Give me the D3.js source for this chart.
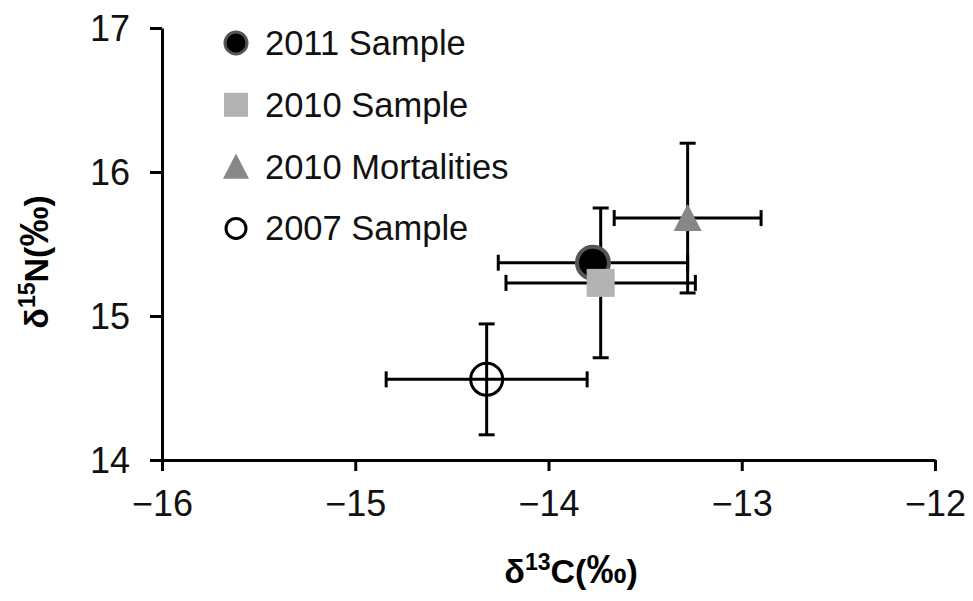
<!DOCTYPE html>
<html>
<head>
<meta charset="utf-8">
<script src="https://cdn.jsdelivr.net/npm/d3@7"></script>
<style>
  body { margin: 0; background: #fff; }
  text { font-family: "Liberation Sans", Arial, sans-serif; }
</style>
</head>
<body>
<div id="chart"></div>
<script>
// series
var names = ["2011 Sample", "2010 Sample", "2010 Mortalities", "2007 Sample"];
var d13C = [-13.77, -13.73, -13.28, -14.32];
var d15N = [15.37, 15.23, 15.68, 14.56];
var cErr = [0.49, 0.49, 0.38, 0.52];
var nErr = [0.1, 0.52, 0.52, 0.385];
var xTicks = [-16, -15, -14, -13, -12];
var yTicks = [14, 15, 16, 17];

var width = 973, height = 601;
var margin = { top: 28, right: 38, bottom: 141, left: 162 };

var svg = d3.select("#chart")
  .append("svg")
  .attr("width", width)
  .attr("height", height);

var x = d3.scaleLinear().domain([-16, -12]).range([margin.left, width - margin.right]);
var y = d3.scaleLinear().domain([14, 17]).range([height - margin.bottom, margin.top]);

// marker styles per series
var markerType = ["circle", "square", "triangle", "open"];

function markerPath(type, s) {
  // s = half size
  if (type === "square") return `M${-s},${-s}H${s}V${s}H${-s}Z`;
  if (type === "triangle") return `M0,${-s}L${s},${s * 0.93}L${-s},${s * 0.93}Z`;
  return d3.arc()({ innerRadius: 0, outerRadius: s, startAngle: 0, endAngle: 2 * Math.PI });
}

function styleMarker(sel, type) {
  if (type === "circle") sel.attr("fill", "#000").attr("stroke", "#555").attr("stroke-width", 4);
  else if (type === "square") sel.attr("fill", "#b3b3b3");
  else if (type === "triangle") sel.attr("fill", "#878787");
  else sel.attr("fill", "none").attr("stroke", "#000").attr("stroke-width", 3);
}

// axes
var fmt = d3.format("d");
var xAxis = svg.append("g")
  .attr("transform", `translate(0,${y(14)})`)
  .call(d3.axisBottom(x).tickValues(xTicks).tickFormat(fmt).tickSize(11).tickSizeOuter(0).tickPadding(19));

var yAxis = svg.append("g")
  .attr("transform", `translate(${x(-16)},0)`)
  .call(d3.axisLeft(y).tickValues(yTicks).tickFormat(fmt).tickSize(12).tickSizeOuter(0).tickPadding(20));

svg.selectAll(".domain").attr("stroke", "#000").attr("stroke-width", 3);
svg.selectAll(".tick line").attr("stroke", "#000").attr("stroke-width", 3);
svg.selectAll(".tick text")
  .attr("fill", "#111")
  .style("font-size", "36px")
  .style("font-family", "'Liberation Sans', Arial, sans-serif");
yAxis.selectAll(".tick text").attr("dy", "0.36em");

// axis labels
var xlabel = svg.append("text")
  .attr("x", 571)
  .attr("y", 583)
  .attr("text-anchor", "middle")
  .style("font-size", "34px")
  .style("font-weight", "bold");
xlabel.append("tspan").text("δ");
xlabel.append("tspan").text("13").style("font-size", "23px").attr("dy", -13);
xlabel.append("tspan").text("C(").attr("dy", 13);
xlabel.append("tspan").text("‰").style("font-size", "40px");
xlabel.append("tspan").text(")");

var ylabel = svg.append("text")
  .attr("transform", "translate(48,262) rotate(-90)")
  .attr("text-anchor", "middle")
  .style("font-size", "34px")
  .style("font-weight", "bold");
ylabel.append("tspan").text("δ");
ylabel.append("tspan").text("15").style("font-size", "23px").attr("dy", -13);
ylabel.append("tspan").text("N(").attr("dy", 13);
ylabel.append("tspan").text("‰").style("font-size", "40px");
ylabel.append("tspan").text(")");

// error bars
var cap = 8;
var bars = svg.append("g").attr("stroke", "#000").attr("stroke-width", 3);
names.forEach(function (n, i) {
  var cx = x(d13C[i]), cy = y(d15N[i]);
  var x0 = x(d13C[i] - cErr[i]), x1 = x(d13C[i] + cErr[i]);
  var y0 = y(d15N[i] - nErr[i]), y1 = y(d15N[i] + nErr[i]);
  bars.append("line").attr("x1", x0).attr("x2", x1).attr("y1", cy).attr("y2", cy);
  bars.append("line").attr("x1", x0).attr("x2", x0).attr("y1", cy - cap).attr("y2", cy + cap);
  bars.append("line").attr("x1", x1).attr("x2", x1).attr("y1", cy - cap).attr("y2", cy + cap);
  bars.append("line").attr("x1", cx).attr("x2", cx).attr("y1", y0).attr("y2", y1);
  bars.append("line").attr("x1", cx - cap).attr("x2", cx + cap).attr("y1", y0).attr("y2", y0);
  bars.append("line").attr("x1", cx - cap).attr("x2", cx + cap).attr("y1", y1).attr("y2", y1);
});

// points
var plotSize = [16, 14, 14, 16];
names.forEach(function (n, i) {
  var p = svg.append("path")
    .attr("d", markerPath(markerType[i], plotSize[i]))
    .attr("transform", `translate(${x(d13C[i])},${y(d15N[i])})`);
  styleMarker(p, markerType[i]);
});

// legend
var legendSize = [11, 12, 13, 10];
var legend = svg.selectAll(".legend")
  .data(names)
  .enter()
  .append("g")
  .attr("class", "legend")
  .attr("transform", function (d, i) { return `translate(236,${43 + i * 61.8})`; });

legend.each(function (d, i) {
  var p = d3.select(this).append("path").attr("d", markerPath(markerType[i], legendSize[i]));
  styleMarker(p, markerType[i]);
  if (markerType[i] === "circle") p.attr("stroke-width", 3);
});

legend.append("text")
  .attr("x", 29)
  .attr("y", 12)
  .style("font-size", "34.5px")
  .attr("fill", "#111")
  .text(function (d) { return d; });
</script>
</body>
</html>
